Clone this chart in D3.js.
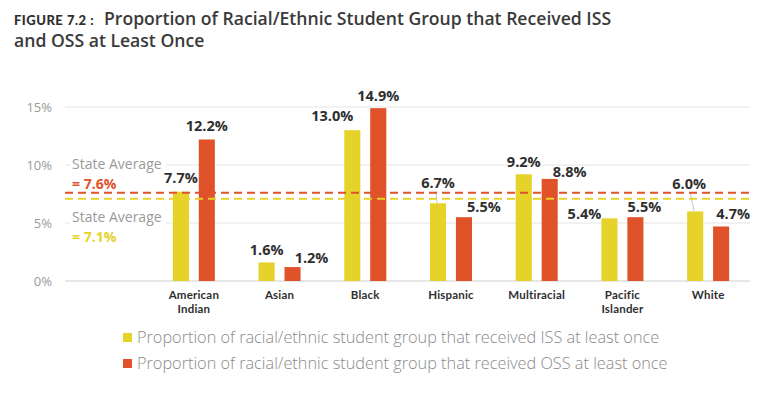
<!DOCTYPE html>
<html>
<head>
<meta charset="utf-8">
<script src="https://cdn.jsdelivr.net/npm/d3@7"></script>
<style>
  html, body { margin: 0; padding: 0; background: #fff; }
  svg { display: block; font-family: "Open Sans", Lato, sans-serif; }
</style>
</head>
<body>
<div id="chart"></div>
<script>
const categories = ["American Indian", "Asian", "Black", "Hispanic", "Multiracial", "Pacific Islander", "White"];
const categoryLines = [["American", "Indian"], ["Asian"], ["Black"], ["Hispanic"], ["Multiracial"], ["Pacific", "Islander"], ["White"]];
const issValues = [7.7, 1.6, 13.0, 6.7, 9.2, 5.4, 6.0];
const ossValues = [12.2, 1.2, 14.9, 5.5, 8.8, 5.5, 4.7];
const yTicks = [0, 5, 10, 15];
const stateAvgOss = 7.6;
const stateAvgIss = 7.1;
const legendLabels = [
  "Proportion of racial/ethnic student group that received ISS at least once",
  "Proportion of racial/ethnic student group that received OSS at least once",
];

const YELLOW = "#e5d32a";
const ORANGE = "#e0522a";
const width = 775, height = 394;

// hand placed label nudges [dx, lift above bar top], as in the printed figure
const issNudge = [[0, 7], [0, 5], [-20, 7], [0, 13], [0, 5], [-25, -3], [-6, 20]];
const ossNudge = [[0, 6], [19, 2], [0, 5], [20, 3], [20, 0], [9, 3], [12, 5]];

const svg = d3.select("#chart").append("svg").attr("width", width).attr("height", height);

// title
svg.append("text").attr("x", 14).attr("y", 25).attr("fill", "#2e2e2e")
  .style("font-family", "Lato, sans-serif")
  .style("font-size", "13px").style("font-weight", 900).style("letter-spacing", "0.5px")
  .text("FIGURE 7.2 :");
svg.append("text").attr("x", 104).attr("y", 25).attr("fill", "#3a3a3a")
  .style("font-size", "17.6px").style("font-weight", 600)
  .text("Proportion of Racial/Ethnic Student Group that Received ISS");
svg.append("text").attr("x", 14).attr("y", 46.5).attr("fill", "#3a3a3a")
  .style("font-size", "17.6px").style("font-weight", 600)
  .text("and OSS at Least Once");

const y = d3.scaleLinear().domain([0, 15]).range([281, 107]);
const x0 = d3.scaleBand().domain(categories).range([151, 751]).paddingInner(0.51).paddingOuter(0.255);
const x1 = d3.scaleBand().domain(["iss", "oss"]).range([0, x0.bandwidth()]).paddingInner(0.38);

// grid + y labels
const grid = svg.append("g");
grid.selectAll("line").data(yTicks).join("line")
  .attr("x1", 65).attr("x2", 750)
  .attr("y1", (d) => y(d)).attr("y2", (d) => y(d))
  .attr("stroke", (d) => (d === 0 ? "#cfcfcf" : "#e4e4e4")).attr("stroke-width", 1);
grid.selectAll("text").data(yTicks).join("text")
  .attr("x", 52).attr("y", (d) => y(d)).attr("dy", "0.35em")
  .attr("text-anchor", "end").attr("fill", "#9a9a9a")
  .style("font-size", "13px").text((d) => d + "%");

// state average labels (with white backing over gridlines)
function avgLabel(yTop, value, color) {
  const g = svg.append("g");
  g.append("rect").attr("x", 70).attr("y", yTop - 11).attr("width", 96).attr("height", 14).attr("fill", "#fff");
  g.append("text").attr("x", 72).attr("y", yTop).attr("fill", "#9a9a9a")
    .style("font-size", "14px").text("State Average");
  g.append("text").attr("x", 72).attr("y", yTop + 20).attr("fill", color)
    .style("font-size", "14px").style("font-weight", 700).text("= " + value.toFixed(1) + "%");
}
avgLabel(169, stateAvgOss, ORANGE);
avgLabel(222, stateAvgIss, YELLOW);

// bars
const rows = categories.map((c, i) => ({ c, i, iss: issValues[i], oss: ossValues[i] }));
const groups = svg.append("g").selectAll("g").data(rows).join("g")
  .attr("transform", (d) => `translate(${x0(d.c)},0)`);

const series = [
  { key: "iss", color: YELLOW, nudge: issNudge },
  { key: "oss", color: ORANGE, nudge: ossNudge },
];

series.forEach((s) => {
  groups.append("rect")
    .attr("x", x1(s.key)).attr("width", x1.bandwidth())
    .attr("y", (d) => y(d[s.key])).attr("height", (d) => y(0) - y(d[s.key]))
    .attr("fill", s.color);
});

// dashed state averages
svg.append("line").attr("x1", 65).attr("x2", 750).attr("y1", y(stateAvgOss)).attr("y2", y(stateAvgOss))
  .attr("stroke", ORANGE).attr("stroke-width", 2).attr("stroke-dasharray", "8,5");
svg.append("line").attr("x1", 65).attr("x2", 750).attr("y1", y(stateAvgIss)).attr("y2", y(stateAvgIss))
  .attr("stroke", YELLOW).attr("stroke-width", 2).attr("stroke-dasharray", "8,5");

// value labels
series.forEach((s) => {
  groups.each(function (d) {
    const g = d3.select(this);
    const [dx, lift] = s.nudge[d.i];
    const cx = x1(s.key) + x1.bandwidth() / 2;
    const top = y(d[s.key]);
    if (lift > 10) {
      g.append("line").attr("x1", cx + dx / 2 - 2).attr("x2", cx - 1).attr("y1", top - lift + 1).attr("y2", top)
        .attr("stroke", "#c8c8c8").attr("stroke-width", 1);
    }
    g.append("text").attr("x", cx + dx).attr("y", top - lift - 2)
      .attr("text-anchor", "middle").attr("fill", "#2f2f2f")
      .style("font-size", "14.5px").style("font-weight", 700)
      .text(d[s.key].toFixed(1) + "%");
  });
});

// category labels
groups.each(function (d) {
  const g = d3.select(this);
  categoryLines[d.i].forEach((line, k) => {
    g.append("text")
      .attr("x", x0.bandwidth() / 2).attr("y", 299 + k * 13.5)
      .attr("text-anchor", "middle").attr("fill", "#2f2f2f")
      .style("font-family", "Lato, sans-serif")
      .style("font-size", "11.5px").style("font-weight", 700).style("letter-spacing", "0.2px")
      .text(line);
  });
});

// legend
const legend = svg.append("g").selectAll("g").data(legendLabels).join("g")
  .attr("transform", (d, i) => `translate(123,${333 + i * 26})`);
legend.append("rect").attr("width", 9).attr("height", 9)
  .attr("fill", (d, i) => (i ? ORANGE : YELLOW));
legend.append("text").attr("x", 14).attr("y", 4.5).attr("dy", "0.35em")
  .attr("fill", "#8a8a8a").style("font-size", "16.3px").style("font-weight", 300)
  .text((d) => d);
</script>
</body>
</html>
